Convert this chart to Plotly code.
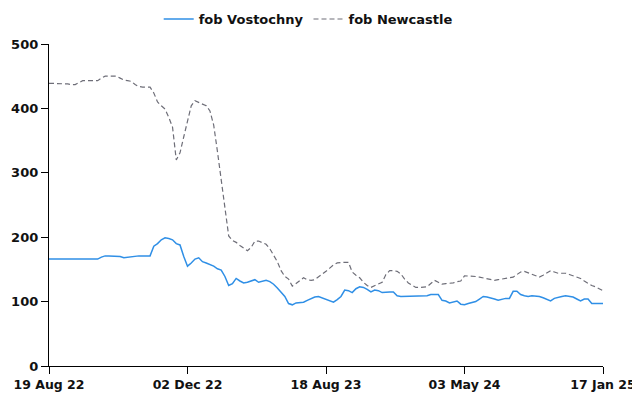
import plotly.graph_objects as go

tick_labels = ["19 Aug 22", "02 Dec 22", "18 Aug 23", "03 May 24", "17 Jan 25"]
tick_index = [0, 37, 74, 111, 148]

vostochny = [
    166, 166, 166, 166, 166, 166, 166, 166, 166, 166,
    166, 166, 166, 166, 169, 171, 171, 171, 171, 170,
    168, 169, 170, 171, 171, 171, 171, 171, 186, 190,
    196, 199, 198, 196, 190, 188, 170, 155, 160, 166,
    168, 162, 160, 158, 155, 151, 149, 139, 125, 128,
    136, 132, 129, 130, 132, 134, 130, 131, 133, 131,
    127, 121, 115, 108, 97, 95, 98, 99, 99, 102,
    105, 107, 108, 106, 103, 101, 99, 103, 108, 118,
    117, 114, 120, 123, 122, 119, 115, 118, 117, 114,
    115, 115, 115, 109, 108, 108, 108, 108, 108, 108,
    108, 109, 111, 111, 111, 102, 101, 98, 99, 101,
    96, 95, 97, 99, 100, 104, 108, 107, 106, 104,
    102, 104, 105, 105, 116, 116, 111, 109, 108, 109,
    109, 108, 106, 103, 101, 105, 107, 108, 109, 108,
    107, 104, 101, 104, 104, 97, 97, 97, 97,
]

newcastle = [
    439, 439, 438, 438, 438, 438, 437, 437, 440, 443,
    443, 443, 443, 443, 447, 450, 450, 450, 450, 447,
    444, 443, 442, 437, 434, 433, 433, 433, 424, 410,
    404, 399, 386, 371, 320, 331, 356, 379, 404, 412,
    409, 406, 404, 396, 374, 333, 290, 243, 202, 195,
    192, 187, 183, 179, 184, 194, 194, 191, 189, 182,
    173, 162, 148, 139, 135, 124, 128, 133, 137, 134,
    133, 134, 138, 142, 147, 152, 157, 160, 161, 161,
    161, 146, 141, 137, 130, 125, 122, 125, 127, 130,
    142, 148, 148, 147, 143, 135, 129, 125, 122, 122,
    123, 123, 128, 133, 130, 127, 128, 128, 129, 131,
    132, 140, 140, 139, 139, 138, 137, 135, 134, 133,
    134, 135, 136, 137, 138, 142, 146, 147, 145, 143,
    140, 138, 141, 145, 148, 146, 144, 144, 144, 142,
    140, 138, 136, 132, 128, 125, 123, 120, 117,
]

x_idx = list(range(len(vostochny)))

FONT = "DejaVu Sans"

fig = go.Figure()
fig.add_trace(go.Scatter(
    x=x_idx, y=vostochny, mode="lines", name="fob Vostochny",
    line=dict(color="#2f8fe6", width=1.5),
))
fig.add_trace(go.Scatter(
    x=x_idx, y=newcastle, mode="lines", name="fob Newcastle",
    line=dict(color="#6e6e78", width=1.2, dash="5px,3px"),
))

fig.update_layout(
    width=632, height=393,
    margin=dict(l=41, r=37, t=36, b=35, autoexpand=False),
    paper_bgcolor="white", plot_bgcolor="white",
    font=dict(family=FONT, size=13, color="#111111"),
    showlegend=True,
    legend=dict(
        orientation="h", x=0.475, xanchor="center", xref="container",
        y=1.124, yanchor="top", yref="paper",
        font=dict(family=FONT, size=13, color="#111111", weight="bold"),
        itemwidth=30,
    ),
    xaxis=dict(
        range=[0, len(vostochny) - 1],
        tickmode="array", tickvals=tick_index, ticktext=tick_labels,
        showline=True, linecolor="black", linewidth=1.3,
        ticks="outside", ticklen=7, tickcolor="black", tickwidth=1.3,
        showgrid=False, zeroline=False,
        tickfont=dict(family=FONT, size=12.5, color="#111111", weight="bold"),
    ),
    yaxis=dict(
        range=[0, 500],
        tickvals=[0, 100, 200, 300, 400, 500],
        showline=True, linecolor="black", linewidth=1.3,
        ticks="outside", ticklen=7, tickcolor="black", tickwidth=1.3,
        showgrid=False, zeroline=False,
        tickfont=dict(family=FONT, size=13, color="#111111", weight="bold"),
    ),
)

fig.write_html("out.html")
